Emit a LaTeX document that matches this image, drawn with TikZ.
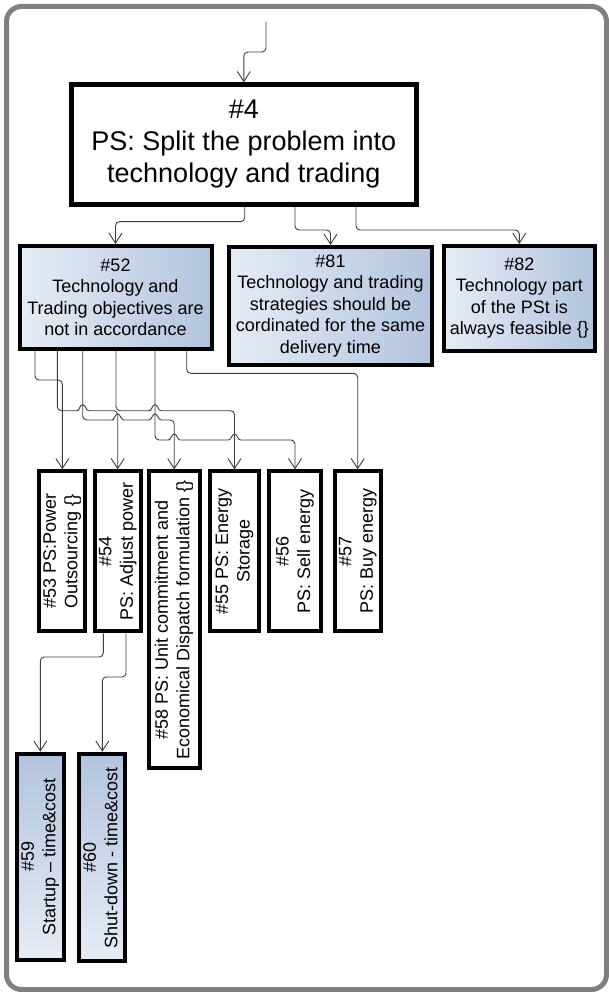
\documentclass[tikz,border=0pt]{standalone}
\usepackage{fontspec}
\setmainfont{Liberation Sans}
\usepackage{graphicx}
\usetikzlibrary{arrows.meta,calc}
\definecolor{frameg}{HTML}{808080}
\definecolor{conng}{HTML}{3C3C3C}
\definecolor{bluel}{HTML}{E6ECF5}
\definecolor{blued}{HTML}{B2C4DE}
\newcommand{\vlab}[1]{\rotatebox{90}{\begin{tabular}{@{}c@{}}#1\end{tabular}}}
\begin{document}
\begin{tikzpicture}[x=1pt,y=-1pt,
  box/.style={draw=black, line width=4pt, fill=white, inner sep=0pt, align=center, font=\fontsize{18}{21.5}\selectfont},
  bluebox/.style={box, left color=bluel, right color=blued},
  vbluebox/.style={box, top color=blued, bottom color=bluel},
  conn/.style={draw=conng, line width=0.9pt, -{Straight Barb[length=10pt,width=13pt,line width=0.9pt]}},
]
\useasboundingbox (0,0) rectangle (609,992);
\draw[frameg, line width=5pt, rounded corners=15pt] (6.5,6.5) rectangle (606.5,989.5);

% nodes
\node[box, line width=5pt, minimum width=344.5pt, minimum height=119.4pt, font=\fontsize{27}{32}\selectfont] (n4) at (243.8,144.5) {\#4\\PS: Split the problem into\\technology and trading};

\node[bluebox, minimum width=192pt, minimum height=102.7pt] (n52) at (115.5,297.3) {\#52\\Technology and\\Trading objectives are\\not in accordance};
\node[bluebox, minimum width=203pt, minimum height=117.7pt] (n81) at (330.5,305.8) {\#81\\Technology and trading\\strategies should be\\cordinated for the same\\delivery time};
\node[bluebox, minimum width=151.4pt, minimum height=104.7pt] (n82) at (519.3,298.3) {\#82\\Technology part\\of the PSt is\\always feasible \{\}};

\node[box, minimum width=46pt, minimum height=160pt] (n53) at (62.3,551.3) {\vlab{\#53 PS:Power\\Outsourcing \{\}}};
\node[box, minimum width=46pt, minimum height=160pt] (n54) at (117.7,551.3) {\vlab{\#54\\PS: Adjust power}};
\node[box, minimum width=51pt, minimum height=296.7pt] (n58) at (174.2,619.7) {\vlab{\#58 PS: Unit commitment and\\Economical Dispatch formulation \{\}}};
\node[box, minimum width=48.4pt, minimum height=160pt] (n55) at (234.5,551.3) {\vlab{\#55 PS: Energy\\Storage}};
\node[box, minimum width=52.6pt, minimum height=160pt] (n56) at (295,551.3) {\vlab{\#56\\PS: Sell energy}};
\node[box, minimum width=46pt, minimum height=160pt] (n57) at (357.7,551.3) {\vlab{\#57\\PS: Buy energy}};
\node[vbluebox, minimum width=46.7pt, minimum height=206pt] (n59) at (40.3,856.7) {\vlab{\#59\\Startup – time\&cost}};
\node[vbluebox, minimum width=46pt, minimum height=207.6pt] (n60) at (102.3,857.5) {\vlab{\#60\\Shut-down - time\&cost}};

% connectors
\coordinate (in) at (266,21.7);
\draw[conn, rounded corners=4pt] (in) -- (266,52) -- (243.8,52) -- (n4.north);
\draw[conn, rounded corners=4pt] (244.7,0 |- n4.south) -- (244.7,221.7) -- (115.5,221.7) -- (n52.north);
\draw[conn, rounded corners=4pt] (295,0 |- n4.south) -- (295,230) -- (330.5,230) -- (n81.north);
\draw[conn, rounded corners=4pt] (356,0 |- n4.south) -- (356,230) -- (519.3,230) -- (n82.north);

\draw[conn, rounded corners=4pt] (35,0 |- n52.south) -- (35,380) -- (62.3,380) -- (n53.north);
\draw[conn] [rounded corners=4pt] (57.3,0 |- n52.south) -- (57.3,410.7) -- (74.7,410.7) [sharp corners] -- (76.7,410.7)
  .. controls (79.7,410.7) and (79.7,404.7) .. (82.7,404.7)
  .. controls (85.7,404.7) and (85.7,410.7) .. (88.7,410.7)
  -- (90.7,410.7) [rounded corners=4pt] -- (117.7,410.7) -- (n54.north);
\draw[conn] [rounded corners=4pt] (116,0 |- n52.south) -- (116,410.7) -- (147,410.7) [sharp corners] -- (149,410.7)
  .. controls (152,410.7) and (152,404.7) .. (155,404.7)
  .. controls (158,404.7) and (158,410.7) .. (161,410.7)
  -- (163,410.7) [rounded corners=4pt] -- (234.5,410.7) -- (n55.north);
\draw[conn] [rounded corners=4pt] (82.7,0 |- n52.south) -- (82.7,420) -- (109.7,420) [sharp corners] -- (111.7,420)
  .. controls (114.7,420) and (114.7,414) .. (117.7,414)
  .. controls (120.7,414) and (120.7,420) .. (123.7,420)
  -- (149,420)
  .. controls (152,420) and (152,414) .. (155,414)
  .. controls (158,414) and (158,420) .. (161,420)
  -- (163,420) [rounded corners=4pt] -- (174.2,420) -- (n58.north);
\draw[conn] [rounded corners=4pt] (155,0 |- n52.south) -- (155,440) -- (166.2,440) [sharp corners] -- (168.2,440)
  .. controls (171.2,440) and (171.2,434) .. (174.2,434)
  .. controls (177.2,434) and (177.2,440) .. (180.2,440)
  -- (228.5,440)
  .. controls (231.5,440) and (231.5,434) .. (234.5,434)
  .. controls (237.5,434) and (237.5,440) .. (240.5,440)
  -- (242.5,440) [rounded corners=4pt] -- (295,440) -- (n56.north);
\draw[conn, rounded corners=4pt] (186.7,0 |- n52.south) -- (186.7,373.3) -- (357.7,373.3) -- (n57.north);

\draw[conn, rounded corners=4pt] (103.3,0 |- n54.south) -- (103.3,657) -- (40.3,657) -- (n59.north);
\draw[conn, rounded corners=4pt] (126,0 |- n54.south) -- (126,677) -- (102.3,677) -- (n60.north);
\end{tikzpicture}
\end{document}
